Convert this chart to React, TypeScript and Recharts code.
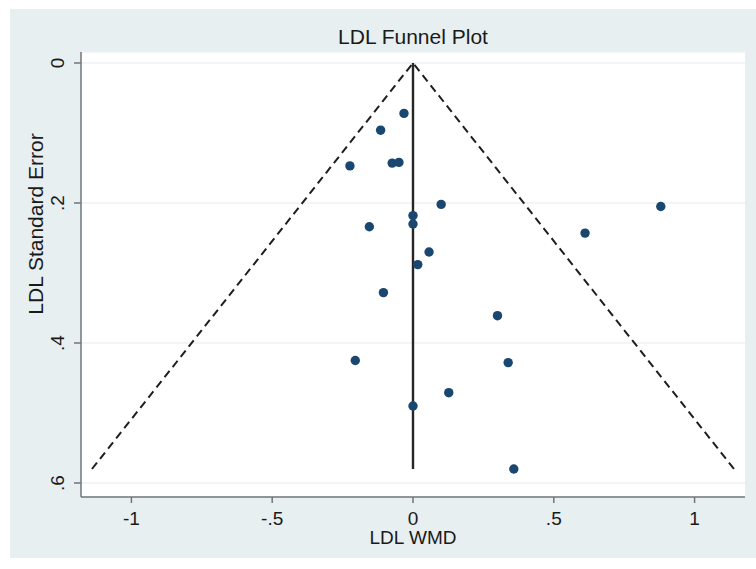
import { CartesianGrid, Scatter, ScatterChart, XAxis, YAxis } from "recharts";

// study estimates: weighted mean difference and its standard error
const wmd = [
  -0.032, -0.115, -0.224, -0.074, -0.05, 0.1, 0.88, 0, 0, -0.155,
  0.611, 0.057, 0.017, -0.105, 0.3, -0.205, 0.338, 0.127, 0, 0.358,
];
const se = [
  0.072, 0.096, 0.147, 0.143, 0.142, 0.202, 0.205, 0.218, 0.23, 0.234,
  0.243, 0.27, 0.288, 0.328, 0.361, 0.425, 0.428, 0.471, 0.49, 0.58,
];

const xTicks = [-1, -0.5, 0, 0.5, 1];
const yTicks = [0, 0.2, 0.4, 0.6];

// pseudo 95% confidence limits and the pooled estimate line
const limitWmd = [-1.14, 0, 1.14];
const limitSe = [0.58, 0, 0.58];
const pooledWmd = [0, 0];
const pooledSe = [0, 0.58];

const studies = wmd.map((w, i) => ({ wmd: w, se: se[i] }));
const limits = limitWmd.map((w, i) => ({ wmd: w, se: limitSe[i] }));
const pooled = pooledWmd.map((w, i) => ({ wmd: w, se: pooledSe[i] }));

const W = 756;
const H = 569;
const FONT = '"Liberation Sans", Arial, sans-serif';
const INK = "#1a1a1a";
const AXIS = "#70757a";

// Stata style numbers: .5 instead of 0.5
const fmt = (v: number) => String(v).replace("0.", ".");

const XTick = (props: any) => {
  const { x, y, payload } = props;
  return (
    <text x={x} y={y + 20} textAnchor="middle" fontSize={19} fill={INK} fontFamily={FONT}>
      {fmt(payload.value)}
    </text>
  );
};

const YTick = (props: any) => {
  const { x, y, payload } = props;
  const bx = x - 8;
  return (
    <text
      x={bx}
      y={y}
      textAnchor="middle"
      fontSize={19}
      fill={INK}
      fontFamily={FONT}
      transform={`rotate(-90, ${bx}, ${y})`}
    >
      {fmt(payload.value)}
    </text>
  );
};

const Dot = (props: any) => <circle cx={props.cx} cy={props.cy} r={4.7} fill="#1a476f" />;
const NoDot = () => <g />;

export default function App() {
  return (
    <div style={{ position: "absolute", left: 0, top: 0, width: W, height: H, background: "#fff" }}>
      <div style={{ position: "absolute", left: 10, top: 9, width: W - 10, height: 549, background: "#e8eff1" }} />
      <div style={{ position: "absolute", left: 0, top: 0 }}>
        <ScatterChart width={W} height={H} margin={{ top: 52, right: 11, left: 10, bottom: 10 }}>
          <CartesianGrid vertical={false} stroke="#edf2f4" strokeWidth={1.5} fill="#ffffff" />
          <XAxis
            type="number"
            dataKey="wmd"
            domain={[-1.179, 1.179]}
            ticks={xTicks}
            allowDataOverflow
            height={62}
            tickSize={6}
            tickMargin={2}
            axisLine={{ stroke: AXIS, strokeWidth: 1.5 }}
            tickLine={{ stroke: AXIS, strokeWidth: 1.5 }}
            tick={<XTick />}
          />
          <YAxis
            type="number"
            dataKey="se"
            domain={[-0.0157, 0.62]}
            reversed
            ticks={yTicks}
            allowDataOverflow
            width={71}
            tickSize={7}
            tickMargin={2}
            axisLine={{ stroke: AXIS, strokeWidth: 1.5 }}
            tickLine={{ stroke: AXIS, strokeWidth: 1.5 }}
            tick={<YTick />}
          />
          <Scatter
            data={limits}
            line={{ stroke: "#1e1e1e", strokeWidth: 2, strokeDasharray: "8 5" }}
            shape={<NoDot />}
            isAnimationActive={false}
          />
          <Scatter
            data={pooled}
            line={{ stroke: "#262626", strokeWidth: 2.4 }}
            shape={<NoDot />}
            isAnimationActive={false}
          />
          <Scatter data={studies} shape={<Dot />} isAnimationActive={false} />
        </ScatterChart>
      </div>
      <svg width={W} height={H} style={{ position: "absolute", left: 0, top: 0, pointerEvents: "none" }}>
        <text x={413} y={44} textAnchor="middle" fontSize={21} fill={INK} fontFamily={FONT}>
          LDL Funnel Plot
        </text>
        <text x={413} y={544} textAnchor="middle" fontSize={19} fill={INK} fontFamily={FONT}>
          LDL WMD
        </text>
        <text
          x={43}
          y={224}
          textAnchor="middle"
          fontSize={21}
          fill={INK}
          fontFamily={FONT}
          transform="rotate(-90, 43, 224)"
        >
          LDL Standard Error
        </text>
      </svg>
    </div>
  );
}
